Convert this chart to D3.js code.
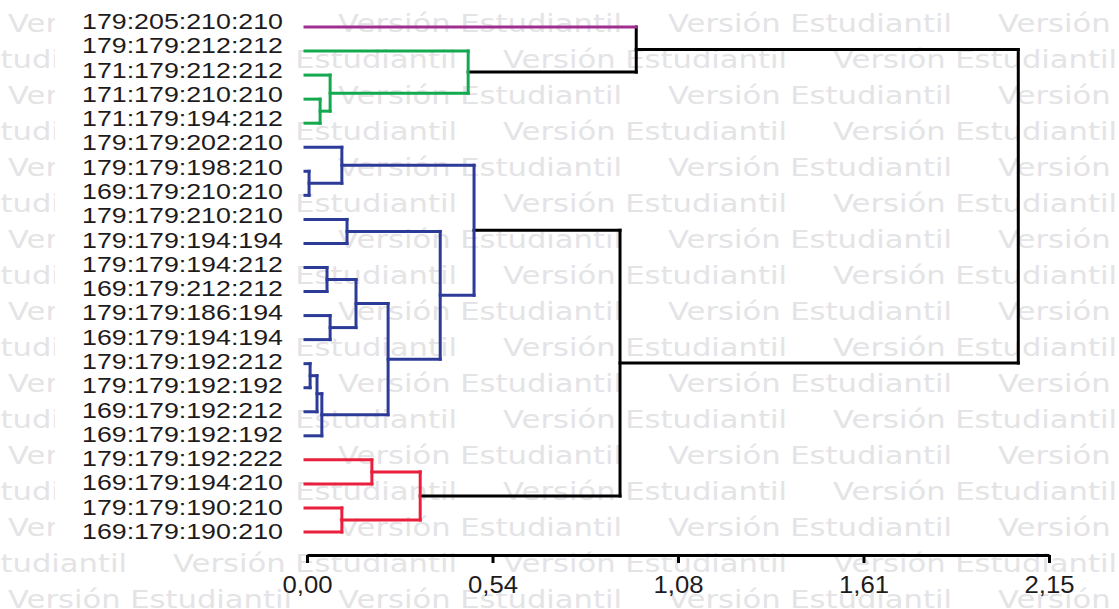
<!DOCTYPE html>
<html>
<head>
<meta charset="utf-8">
<script src="https://cdnjs.cloudflare.com/ajax/libs/d3/7.8.5/d3.min.js"></script>
<style>
  body { margin: 0; background: #fff; }
  svg { display: block; }
</style>
</head>
<body>
<script>
// Dendrogram of genotypes (InfoStat style), drawn with D3

// Leaf labels, top to bottom
var leafLabels = [
  "179:205:210:210", "179:179:212:212", "171:179:212:212", "171:179:210:210",
  "171:179:194:212", "179:179:202:210", "179:179:198:210", "169:179:210:210",
  "179:179:210:210", "179:179:194:194", "179:179:194:212", "169:179:212:212",
  "179:179:186:194", "169:179:194:194", "179:179:192:212", "179:179:192:192",
  "169:179:192:212", "169:179:192:192", "179:179:192:222", "169:179:194:210",
  "179:179:190:210", "169:179:190:210"
];

// Cluster of each leaf (index into groupColors)
var leafGroup = [0, 1, 1, 1, 1, 2, 2, 2, 2, 2, 2, 2, 2, 2, 2, 2, 2, 2, 3, 3, 3, 3];
var groupColors = ["#9e2f8f", "#14a84f", "#2c3b98", "#ea1f3d"];

// Merge table: [child A, child B, distance]; ids 0-21 are leaves, 22+ are earlier merges
var merges = [
  [6, 7, 0.006],    // 22
  [14, 15, 0.009],  // 23
  [23, 16, 0.029],  // 24
  [3, 4, 0.038],    // 25
  [24, 17, 0.043],  // 26
  [10, 11, 0.058],  // 27
  [2, 25, 0.067],   // 28
  [12, 13, 0.067],  // 29
  [5, 22, 0.101],   // 30
  [20, 21, 0.101],  // 31
  [8, 9, 0.116],    // 32
  [27, 29, 0.142],  // 33
  [18, 19, 0.188],  // 34
  [33, 26, 0.235],  // 35
  [34, 31, 0.328],  // 36
  [32, 35, 0.386],  // 37
  [1, 28, 0.467],   // 38
  [30, 37, 0.484],  // 39
  [39, 36, 0.907],  // 40
  [0, 38, 0.954],   // 41
  [41, 40, 2.061]   // 42
];

// Axis ticks
var tickValues = [0, 0.5375, 1.075, 1.6125, 2.15];
var tickLabels = ["0,00", "0,54", "1,08", "1,61", "2,15"];

var watermark = "Versión Estudiantil";

var width = 1119,
    height = 609;

var x = d3.scaleLinear().domain([0, 2.15]).range([307, 1049]);
var y = d3.scaleLinear().domain([0, leafLabels.length - 1]).range([27, 532]);
var yLabel = d3.scaleLinear().domain([0, leafLabels.length - 1]).range([29, 539]);

var svg = d3.select('body')
  .append('svg')
  .attr('width', width)
  .attr('height', height);

// --- watermark background, staggered rows
var wm = svg.append('g')
  .attr('font-family', '"DejaVu Sans", Verdana, sans-serif')
  .attr('font-size', 24)
  .attr('fill', '#e4e3e6');

d3.range(-1, 17).forEach(function(k) {
  var offset = (k % 2 === 0) ? 8 : 173;
  d3.range(-1, 4).forEach(function(j) {
    wm.append('text')
      .attr('x', offset + 330 * j)
      .attr('y', 32 + 36 * k)
      .attr('textLength', 284)
      .attr('lengthAdjust', 'spacingAndGlyphs')
      .text(watermark);
  });
});

// white panel behind the leaf labels
svg.append('rect')
  .attr('x', 55)
  .attr('y', 0)
  .attr('width', 243)
  .attr('height', 545)
  .attr('fill', '#fff');

// --- build the nodes
var nodes = leafLabels.map(function(d, i) {
  return { id: i, leaf: true, h: 0, y: y(i), leaves: [i] };
});

merges.forEach(function(m) {
  var a = nodes[m[0]], b = nodes[m[1]];
  nodes.push({
    id: nodes.length,
    leaf: false,
    h: m[2],
    y: (a.y + b.y) / 2,
    a: a,
    b: b,
    leaves: a.leaves.concat(b.leaves)
  });
});

function nodeColor(n) {
  var g = leafGroup[n.leaves[0]];
  var same = n.leaves.every(function(l) { return leafGroup[l] === g; });
  return same ? groupColors[g] : '#000';
}

var links = [];
nodes.filter(function(n) { return !n.leaf; }).forEach(function(n) {
  var c = nodeColor(n);
  // vertical bar at the merge height
  links.push({ x1: x(n.h), x2: x(n.h), y1: n.a.y, y2: n.b.y, color: c });
  // horizontal legs from each child
  [n.a, n.b].forEach(function(ch) {
    var lc = c;
    if (c === '#000' && ch.leaf) lc = groupColors[leafGroup[ch.id]];
    links.push({ x1: ch.leaf ? x(0) - 2 : x(ch.h), x2: x(n.h), y1: ch.y, y2: ch.y, color: lc });
  });
});

// black links below, coloured links on top
links.sort(function(p, q) { return (p.color === '#000') - (q.color === '#000'); }).reverse();

svg.append('g')
  .selectAll('line')
  .data(links)
  .enter().append('line')
  .attr('x1', function(d) { return d.x1; })
  .attr('x2', function(d) { return d.x2; })
  .attr('y1', function(d) { return d.y1; })
  .attr('y2', function(d) { return d.y2; })
  .attr('stroke', function(d) { return d.color; })
  .attr('stroke-width', 3)
  .attr('stroke-linecap', 'square');

// --- leaf labels
svg.append('g')
  .attr('font-family', '"Liberation Sans", Arial, sans-serif')
  .attr('font-size', 22)
  .attr('fill', '#1e1b1c')
  .attr('text-anchor', 'end')
  .selectAll('text')
  .data(leafLabels)
  .enter().append('text')
  .attr('x', 283)
  .attr('y', function(d, i) { return yLabel(i); })
  .attr('textLength', 201)
  .attr('lengthAdjust', 'spacingAndGlyphs')
  .text(function(d) { return d; });

// --- distance axis
var axis = d3.axisBottom(x)
  .tickValues(tickValues)
  .tickFormat(function(d, i) { return tickLabels[i]; })
  .tickSize(8)
  .tickSizeOuter(0);

var gAxis = svg.append('g')
  .attr('transform', 'translate(0,555)')
  .call(axis);

gAxis.select('.domain')
  .attr('stroke', '#000')
  .attr('stroke-width', 3);

gAxis.selectAll('.tick line')
  .attr('stroke', '#000')
  .attr('stroke-width', 3);

gAxis.selectAll('.tick text')
  .attr('font-family', '"Liberation Sans", Arial, sans-serif')
  .attr('font-size', 23)
  .attr('fill', '#1e1b1c')
  .attr('y', 38)
  .attr('dy', null)
  .attr('textLength', 50)
  .attr('lengthAdjust', 'spacingAndGlyphs');
</script>
</body>
</html>
